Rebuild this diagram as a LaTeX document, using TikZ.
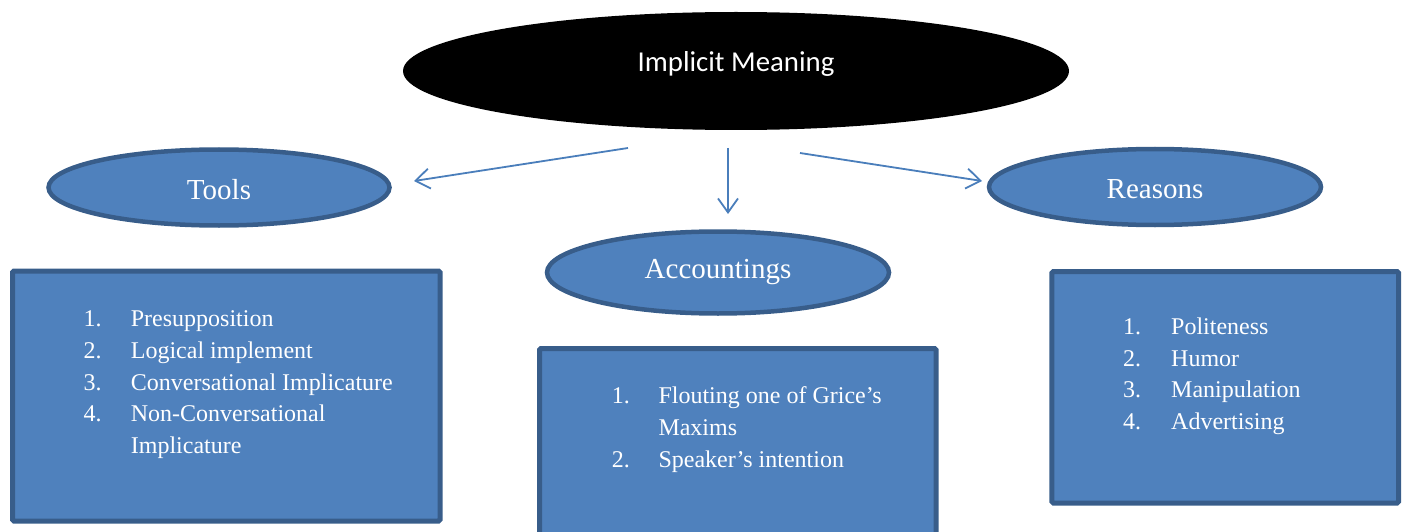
\documentclass[tikz,border=0pt]{standalone}
\usepackage{fontspec}
\setmainfont{Liberation Serif}
\newfontfamily\calibri{Carlito}
\usetikzlibrary{shapes.geometric,arrows.meta}
\definecolor{fillblue}{HTML}{4F81BD}
\definecolor{edgeblue}{HTML}{385D8A}
\definecolor{arrowblue}{HTML}{4A7EBB}
\begin{document}
\begin{tikzpicture}[x=1pt,y=-1pt,
  oval/.style={ellipse, draw=edgeblue, fill=fillblue, line width=4.5pt, inner sep=0pt,
    text=white, font=\fontsize{29}{34}\selectfont},
  listbox/.style={draw=edgeblue, fill=fillblue, line width=5pt, rounded corners=1.5pt, inner sep=0pt},
  item/.style={anchor=base west, inner sep=0pt, text=white, font=\fontsize{24}{32}\selectfont},
  arr/.style={draw=arrowblue, line width=1.8pt, -{Straight Barb[length=14pt,width=20pt]}}]
\useasboundingbox (0,0) rectangle (1408,532);
\clip (0,0) rectangle (1408,532);

% top ellipse
\node[ellipse, fill=black, inner sep=0pt, minimum width=666pt, minimum height=118pt,
  text=white, font=\calibri\fontsize{28.8}{32}\selectfont, text height=12pt, text depth=10pt]
  (main) at (736,71) {Implicit Meaning};

% second level ellipses
\node[oval, minimum width=341pt, minimum height=76pt, text height=23pt, text depth=0pt]
  (tools) at (219,187.5) {Tools};
\node[oval, minimum width=342pt, minimum height=82pt, text height=20pt, text depth=8pt]
  (acc) at (718,272.5) {Accountings};
\node[oval, minimum width=332pt, minimum height=76pt, text height=22pt, text depth=0pt]
  (reasons) at (1155,187) {Reasons};

% arrows
\coordinate (a1s) at (628,148);
\coordinate (a1e) at (414,181);
\coordinate (a2s) at (728,148);
\coordinate (a2e) at (728,214);
\coordinate (a3s) at (800,153);
\coordinate (a3e) at (982,181);
\draw[arr] (a1s) -- (a1e);
\draw[arr] (a2s) -- (a2e);
\draw[arr] (a3s) -- (a3e);

% boxes
\node[listbox, minimum width=427.5pt, minimum height=250pt] (toolsbox) at (226.25,396) {};
\node[listbox, minimum width=396.5pt, minimum height=196.5pt] (accbox) at (737.75,446.75) {};
\node[listbox, minimum width=346.7pt, minimum height=231.5pt] (reasonsbox) at (1225.15,387.25) {};

% tools list
\node[item] (t1n) at (83.3,326) {1.};
\node[item] (t1t) at (130.7,326) {Presupposition};
\node[item] (t2n) at (83.3,358) {2.};
\node[item] (t2t) at (130.7,358) {Logical implement};
\node[item] (t3n) at (83.3,390) {3.};
\node[item] (t3t) at (130.7,390) {Conversational Implicature};
\node[item] (t4n) at (83.3,421) {4.};
\node[item] (t4t) at (130.7,421) {Non-Conversational};
\node[item] (t4u) at (130.7,453) {Implicature};

% accountings list
\node[item] (c1n) at (611.7,403) {1.};
\node[item] (c1t) at (658.3,403) {Flouting one of Grice’s};
\node[item] (c1u) at (658.3,435) {Maxims};
\node[item] (c2n) at (611.7,467) {2.};
\node[item] (c2t) at (658.3,467) {Speaker’s intention};

% reasons list
\node[item] (r1n) at (1123,334) {1.};
\node[item] (r1t) at (1171,334) {Politeness};
\node[item] (r2n) at (1123,366) {2.};
\node[item] (r2t) at (1171,366) {Humor};
\node[item] (r3n) at (1123,397) {3.};
\node[item] (r3t) at (1171,397) {Manipulation};
\node[item] (r4n) at (1123,429) {4.};
\node[item] (r4t) at (1171,429) {Advertising};
\end{tikzpicture}
\end{document}
